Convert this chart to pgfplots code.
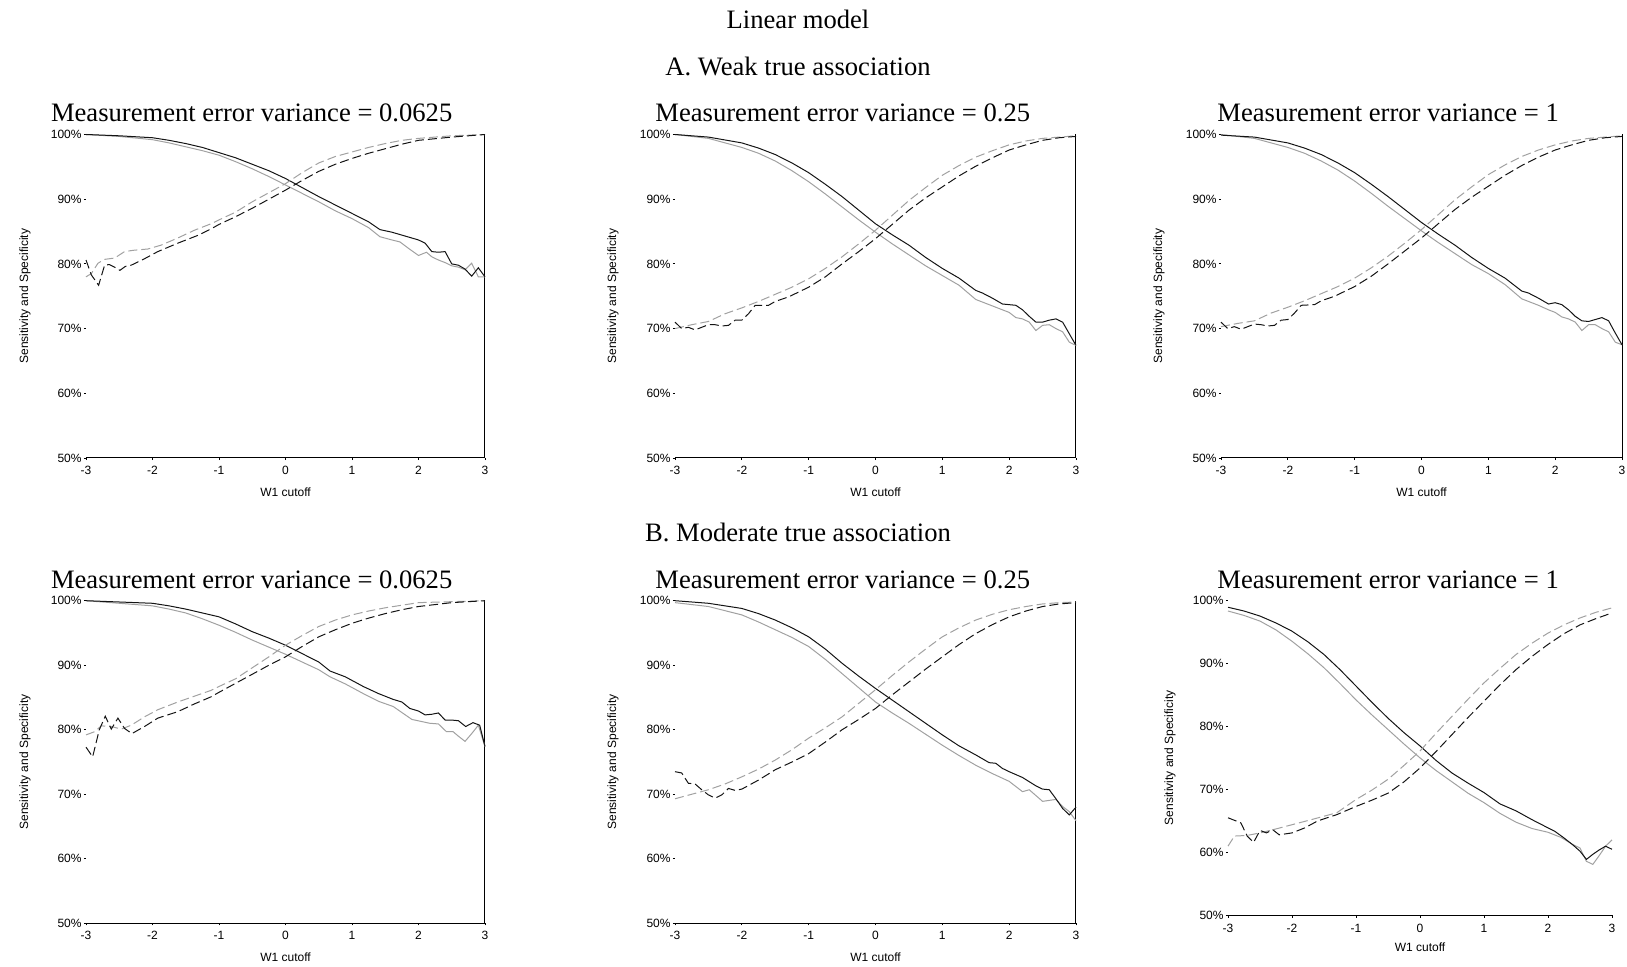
\documentclass[border=0pt]{standalone}
\usepackage{fontspec}
\setmainfont{Liberation Serif}
\setsansfont{Liberation Sans}
\usepackage{pgfplots}
\pgfplotsset{compat=1.18}
\definecolor{lgray}{gray}{0.63}
\definecolor{dblack}{gray}{0.08}
\newcommand{\tfont}{\fontsize{13.3}{15}\selectfont}
\newcommand{\sfont}{\sffamily\fontsize{6}{7}\selectfont}
\pgfplotsset{
  panel/.style={
    scale only axis, anchor=south west, clip=false,
    xmin=-3, xmax=3, ymin=50, ymax=100,
    axis x line*=bottom, axis y line*=left,
    axis line style={draw=none},
    tick align=outside, major tick length=1.1pt,
    tick style={black, line width=0.4pt},
    xtick={-3,-2,-1,0,1,2,3}, xticklabels={-3,-2,-1,0,1,2,3},
    ytick={50,60,70,80,90,100},
    yticklabels={50\%,60\%,70\%,80\%,90\%,100\%},
    tick label style={font=\sfont},
    xticklabel style={yshift=0.5pt},
    yticklabel style={xshift=2.4pt},
  },
  bs/.style={dblack, line width=0.5pt},
  gs/.style={lgray, line width=0.5pt},
  bd/.style={dblack, line width=0.5pt, dash pattern=on 4.5pt off 2pt},
  gd/.style={lgray, line width=0.5pt, dash pattern=on 4.5pt off 2pt},
}
\newcommand{\panellabels}[2]{%
  \node[rotate=90, font=\sfont] at ([xshift=-#1]rel axis cs:0,0.5) {Sensitivity and Specificity};
  \node[font=\sfont] at ([yshift=-#2]rel axis cs:0.5,0) {W1 cutoff};
}
\newcommand{\panelframe}[2]{%
  \draw[line width=0.5pt, black] (rel axis cs:0,0) -- (rel axis cs:1,0) -- (rel axis cs:1,1);
  \panellabels{#1}{#2}
}
\begin{document}
\begin{tikzpicture}
\useasboundingbox (0,0) rectangle (813.5pt,483.5pt);
\node[anchor=base, font=\tfont] at (399pt,469pt) {Linear model};
\node[anchor=base, font=\tfont] at (399pt,445.5pt) {A. Weak true association};
\node[anchor=base, font=\tfont] at (399pt,212.7pt) {B. Moderate true association};
\node[anchor=base west, font=\tfont, inner sep=0pt] at (25.3pt,422.6pt) {Measurement error variance = 0.0625};
\node[anchor=base west, font=\tfont, inner sep=0pt] at (327.5pt,422.6pt) {Measurement error variance = 0.25};
\node[anchor=base west, font=\tfont, inner sep=0pt] at (608.5pt,422.6pt) {Measurement error variance = 1};
\node[anchor=base west, font=\tfont, inner sep=0pt] at (25.3pt,189.3pt) {Measurement error variance = 0.0625};
\node[anchor=base west, font=\tfont, inner sep=0pt] at (327.5pt,189.3pt) {Measurement error variance = 0.25};
\node[anchor=base west, font=\tfont, inner sep=0pt] at (608.5pt,189.3pt) {Measurement error variance = 1};

% ---------- Panel 1: A, 0.0625 ----------
\begin{axis}[panel, at={(43pt,254.5pt)}, width=199.5pt, height=161.75pt]
\panelframe{30.5pt}{17pt}
\addplot[gs] coordinates {(-3,100)(-2.5,99.7)(-2,99.2)(-1.75,98.7)(-1.5,98.1)(-1.25,97.5)(-1,96.8)(-0.75,95.8)(-0.5,94.7)(-0.25,93.5)(0,92.2)(0.25,90.9)(0.5,89.6)(0.75,88.2)(1,87.0)(1.25,85.6)(1.42,84.2)(1.6,83.7)(1.72,83.4)(1.85,82.4)(2.0,81.3)(2.12,81.8)(2.2,81.1)(2.3,80.6)(2.4,80.2)(2.5,79.7)(2.6,79.5)(2.7,79.1)(2.8,80.1)(2.9,78.0)(3,78.0)};
\addplot[bs] coordinates {(-3,100)(-2.5,99.8)(-2,99.5)(-1.75,99.1)(-1.5,98.6)(-1.25,98.0)(-1,97.2)(-0.75,96.4)(-0.5,95.4)(-0.25,94.4)(0,93.2)(0.25,91.8)(0.5,90.4)(0.75,89.1)(1,87.8)(1.25,86.5)(1.42,85.3)(1.6,84.9)(1.8,84.3)(2.0,83.7)(2.1,83.2)(2.2,81.9)(2.3,81.8)(2.4,81.9)(2.5,80.0)(2.6,79.8)(2.7,79.2)(2.8,78.1)(2.9,79.4)(3.0,78.0)};
\addplot[gd] coordinates {(-3,78.0)(-2.92,78.5)(-2.82,80.1)(-2.72,80.7)(-2.57,80.9)(-2.42,81.9)(-2.29,82.1)(-2.07,82.3)(-1.87,82.9)(-1.62,84.0)(-1.37,85.2)(-1.12,86.2)(-1,86.8)(-0.75,88.0)(-0.5,89.6)(-0.25,91.0)(0,92.4)(0.25,94.1)(0.5,95.6)(0.75,96.6)(1,97.3)(1.25,98.0)(1.5,98.6)(1.75,99.1)(2,99.4)(2.5,99.8)(3,100)};
\addplot[bd] coordinates {(-3,80.6)(-2.92,78.3)(-2.81,76.7)(-2.72,79.8)(-2.65,79.9)(-2.57,79.5)(-2.49,79.0)(-2.41,79.6)(-2.32,79.8)(-2.12,80.8)(-1.92,81.9)(-1.62,83.2)(-1.32,84.4)(-1.12,85.4)(-1,86.1)(-0.75,87.3)(-0.5,88.6)(-0.25,90.0)(0,91.4)(0.25,92.9)(0.5,94.3)(0.75,95.4)(1,96.3)(1.25,97.1)(1.5,97.8)(1.75,98.5)(2,99.1)(2.5,99.6)(3,100)};
\end{axis}

% ---------- Panel 2: A, 0.25 ----------
\begin{axis}[panel, at={(337.5pt,254.5pt)}, width=200.5pt, height=161.75pt]
\panelframe{31pt}{17pt}
\addplot[gs] coordinates {(-3,100)(-2.5,99.4)(-2,98.0)(-1.75,97.1)(-1.5,95.9)(-1.25,94.4)(-1,92.7)(-0.75,90.8)(-0.5,88.8)(-0.25,86.8)(0,84.9)(0.25,83.1)(0.5,81.4)(0.75,79.7)(1,78.2)(1.25,76.7)(1.5,74.5)(1.75,73.5)(1.9,72.9)(2,72.5)(2.1,71.7)(2.2,71.5)(2.3,71.0)(2.4,69.7)(2.5,70.5)(2.6,70.6)(2.7,70.0)(2.8,69.5)(2.9,67.9)(3,67.4)};
\addplot[bs] coordinates {(-3,100)(-2.5,99.6)(-2,98.7)(-1.75,97.9)(-1.5,96.9)(-1.25,95.6)(-1,94.1)(-0.75,92.3)(-0.5,90.4)(-0.25,88.3)(0,86.2)(0.25,84.5)(0.5,82.9)(0.75,81.0)(1,79.3)(1.25,77.8)(1.5,75.9)(1.6,75.5)(1.75,74.7)(1.9,73.8)(2.0,73.7)(2.1,73.6)(2.2,72.9)(2.3,71.9)(2.4,71.0)(2.5,71.0)(2.6,71.3)(2.7,71.5)(2.8,71.0)(2.9,69.2)(3,67.4)};
\addplot[gd] coordinates {(-3,70.0)(-2.75,70.6)(-2.5,71.1)(-2.25,72.3)(-2,73.2)(-1.75,74.2)(-1.5,75.3)(-1.25,76.4)(-1,77.7)(-0.75,79.3)(-0.5,81.1)(-0.25,83.1)(0,85.2)(0.25,87.5)(0.5,89.8)(0.75,91.8)(1,93.7)(1.25,95.2)(1.5,96.5)(1.75,97.5)(2,98.4)(2.25,99.0)(2.5,99.4)(2.75,99.6)(3,99.8)};
\addplot[bd] coordinates {(-3,71.0)(-2.9,70.0)(-2.8,70.2)(-2.7,69.8)(-2.6,70.2)(-2.5,70.6)(-2.4,70.6)(-2.3,70.4)(-2.2,70.5)(-2.1,71.3)(-2,71.3)(-1.9,72.3)(-1.8,73.6)(-1.6,73.6)(-1.5,74.2)(-1.3,74.9)(-1,76.4)(-0.75,78.0)(-0.5,80.0)(-0.25,81.9)(0,83.9)(0.25,86.1)(0.5,88.3)(0.75,90.2)(1,91.9)(1.25,93.6)(1.5,95.1)(1.75,96.4)(2,97.6)(2.25,98.4)(2.5,99.1)(2.75,99.5)(3,99.7)};
\end{axis}

% ---------- Panel 3: A, 1 ----------
\begin{axis}[panel, at={(610.5pt,254.5pt)}, width=200.5pt, height=161.75pt]
\panelframe{31pt}{17pt}
\addplot[gs] coordinates {(-3,100)(-2.5,99.4)(-2,98.0)(-1.75,97.1)(-1.5,95.9)(-1.25,94.5)(-1,92.8)(-0.75,90.9)(-0.5,88.9)(-0.25,87.0)(0,85.1)(0.25,83.3)(0.5,81.6)(0.75,79.9)(1,78.5)(1.25,76.8)(1.5,74.6)(1.75,73.6)(1.9,72.9)(2,72.5)(2.1,71.8)(2.2,71.5)(2.3,71.0)(2.4,69.7)(2.5,70.6)(2.6,70.6)(2.7,70.0)(2.8,69.5)(2.9,67.9)(3,67.5)};
\addplot[bs] coordinates {(-3,99.9)(-2.5,99.6)(-2,98.7)(-1.75,97.9)(-1.5,96.9)(-1.25,95.6)(-1,94.1)(-0.75,92.3)(-0.5,90.4)(-0.25,88.4)(0,86.4)(0.25,84.6)(0.5,82.9)(0.75,81.0)(1,79.3)(1.25,77.8)(1.5,75.8)(1.6,75.5)(1.75,74.7)(1.9,73.8)(2.0,74.0)(2.1,73.7)(2.2,72.9)(2.3,71.9)(2.4,71.2)(2.5,71.1)(2.6,71.4)(2.7,71.7)(2.8,71.2)(2.9,69.3)(3,67.5)};
\addplot[gd] coordinates {(-3,70.3)(-2.75,70.8)(-2.5,71.2)(-2.25,72.4)(-2,73.3)(-1.75,74.3)(-1.5,75.4)(-1.25,76.5)(-1,77.8)(-0.75,79.4)(-0.5,81.2)(-0.25,83.2)(0,85.3)(0.25,87.6)(0.5,89.9)(0.75,91.9)(1,93.8)(1.25,95.3)(1.5,96.6)(1.75,97.6)(2,98.4)(2.25,99.0)(2.5,99.4)(2.75,99.6)(3,99.8)};
\addplot[bd] coordinates {(-3,71.0)(-2.9,70.0)(-2.8,70.3)(-2.7,69.9)(-2.6,70.3)(-2.5,70.7)(-2.4,70.6)(-2.3,70.4)(-2.2,70.5)(-2.1,71.3)(-2,71.4)(-1.9,72.4)(-1.8,73.6)(-1.6,73.7)(-1.5,74.3)(-1.3,75.0)(-1,76.5)(-0.75,78.1)(-0.5,80.0)(-0.25,82.0)(0,84.0)(0.25,86.2)(0.5,88.4)(0.75,90.3)(1,92.0)(1.25,93.7)(1.5,95.2)(1.75,96.5)(2,97.6)(2.25,98.4)(2.5,99.1)(2.75,99.5)(3,99.7)};
\end{axis}

% ---------- Panel 4: B, 0.0625 ----------
\begin{axis}[panel, at={(43pt,21.85pt)}, width=199.5pt, height=161.3pt]
\panelframe{30.5pt}{17pt}
\addplot[gs] coordinates {(-3,100)(-2.5,99.6)(-2,99.2)(-1.75,98.7)(-1.5,98.1)(-1.25,97.2)(-1,96.2)(-0.75,95.1)(-0.5,93.9)(-0.25,92.8)(0,91.7)(0.25,90.5)(0.5,89.3)(0.67,88.2)(0.9,87.1)(1.17,85.6)(1.4,84.4)(1.62,83.6)(1.9,81.6)(2.17,81.0)(2.3,80.9)(2.42,79.7)(2.52,79.7)(2.6,79.0)(2.7,78.2)(2.8,79.4)(2.9,80.7)(3,77.4)};
\addplot[bs] coordinates {(-3,100)(-2.5,99.8)(-2,99.6)(-1.75,99.2)(-1.5,98.7)(-1.25,98.1)(-1,97.5)(-0.75,96.4)(-0.5,95.2)(-0.25,94.2)(0,93.1)(0.25,91.8)(0.5,90.5)(0.67,89.1)(0.9,88.2)(1.17,86.7)(1.4,85.6)(1.62,84.7)(1.75,84.3)(1.87,83.3)(2.0,82.9)(2.1,82.3)(2.2,82.4)(2.3,82.6)(2.4,81.5)(2.5,81.5)(2.6,81.4)(2.71,80.5)(2.82,81.1)(2.92,80.7)(3,77.4)};
\addplot[gd] coordinates {(-3,79.2)(-2.87,79.7)(-2.77,80.6)(-2.62,80.5)(-2.47,80.1)(-2.32,80.7)(-2.12,82.0)(-1.92,83.1)(-1.62,84.3)(-1.37,85.2)(-1.12,86.1)(-1,86.7)(-0.75,87.9)(-0.5,89.6)(-0.25,91.3)(0,93.1)(0.25,94.6)(0.5,96.0)(0.75,97.0)(1,97.8)(1.25,98.4)(1.5,98.9)(1.75,99.3)(2,99.7)(3,100)};
\addplot[bd] coordinates {(-3,77.3)(-2.9,75.8)(-2.8,80.0)(-2.71,82.1)(-2.62,80.1)(-2.52,81.8)(-2.42,80.2)(-2.31,79.4)(-2.12,80.5)(-1.92,81.8)(-1.62,82.8)(-1.37,84.0)(-1.12,85.1)(-1,85.8)(-0.75,87.2)(-0.5,88.6)(-0.25,90.0)(0,91.3)(0.25,92.9)(0.5,94.4)(0.75,95.5)(1,96.5)(1.25,97.3)(1.5,98.0)(1.75,98.6)(2,99.1)(2.5,99.7)(3,100)};
\end{axis}

% ---------- Panel 5: B, 0.25 ----------
\begin{axis}[panel, at={(337.5pt,21.85pt)}, width=200.5pt, height=161.3pt]
\panelframe{31pt}{17pt}
\addplot[gs] coordinates {(-3,99.7)(-2.5,99.1)(-2,97.8)(-1.75,96.7)(-1.5,95.5)(-1.25,94.3)(-1,92.9)(-0.75,90.9)(-0.5,88.7)(-0.25,86.5)(0,84.3)(0.25,82.6)(0.5,81.0)(0.75,79.3)(1,77.6)(1.25,76.0)(1.5,74.5)(1.75,73.2)(2,72.0)(2.2,70.4)(2.3,70.7)(2.5,68.9)(2.7,69.2)(2.8,68.1)(2.9,67.3)(3,65.9)};
\addplot[bs] coordinates {(-3,100)(-2.5,99.6)(-2,98.8)(-1.75,98.0)(-1.5,97.0)(-1.25,95.8)(-1,94.4)(-0.75,92.5)(-0.5,90.3)(-0.25,88.3)(0,86.4)(0.25,84.6)(0.5,82.8)(0.75,81.0)(1,79.2)(1.25,77.5)(1.5,76.1)(1.7,74.9)(1.8,74.8)(1.9,74.0)(2,73.5)(2.2,72.6)(2.4,71.3)(2.5,70.8)(2.6,70.7)(2.7,69.3)(2.8,67.8)(2.9,66.8)(3,68.0)};
\addplot[gd] coordinates {(-3,69.3)(-2.75,70.0)(-2.5,70.7)(-2.25,71.6)(-2,72.7)(-1.75,73.9)(-1.5,75.3)(-1.25,76.9)(-1,78.7)(-0.75,80.3)(-0.5,82.0)(-0.25,84.1)(0,86.2)(0.25,88.4)(0.5,90.5)(0.75,92.5)(1,94.4)(1.25,95.8)(1.5,97.0)(1.75,97.9)(2,98.6)(2.25,99.1)(2.5,99.5)(2.75,99.7)(3,99.8)};
\addplot[bd] coordinates {(-3,73.5)(-2.9,73.3)(-2.8,71.7)(-2.7,71.6)(-2.6,70.7)(-2.5,69.9)(-2.4,69.4)(-2.3,69.9)(-2.2,70.9)(-2.1,70.6)(-2,70.8)(-1.75,72.2)(-1.5,73.8)(-1.25,75.0)(-1,76.3)(-0.75,78.1)(-0.5,80.0)(-0.25,81.6)(0,83.3)(0.25,85.4)(0.5,87.4)(0.75,89.4)(1,91.3)(1.25,93.2)(1.5,94.9)(1.75,96.3)(2,97.5)(2.25,98.4)(2.5,99.1)(2.75,99.5)(3,99.7)};
\end{axis}

% ---------- Panel 6: B, 1 ----------
\begin{axis}[panel, at={(614pt,25.75pt)}, width=192pt, height=157.6pt]
\draw[line width=0.5pt, black] (rel axis cs:0,0) -- (rel axis cs:1,0);
\panellabels{29pt}{16pt}
\addplot[gs] coordinates {(-3,98.3)(-2.75,97.6)(-2.5,96.7)(-2.25,95.3)(-2,93.5)(-1.75,91.5)(-1.5,89.3)(-1.25,86.8)(-1,84.2)(-0.75,81.8)(-0.5,79.5)(-0.25,77.2)(0,75.0)(0.25,73.0)(0.5,71.2)(0.75,69.4)(1,67.9)(1.25,66.2)(1.5,64.8)(1.75,63.8)(2,63.2)(2.2,62.4)(2.4,61.2)(2.5,60.7)(2.6,58.6)(2.7,58.1)(2.8,59.5)(2.9,61.0)(3,62.0)};
\addplot[bs] coordinates {(-3,98.9)(-2.75,98.3)(-2.5,97.5)(-2.25,96.4)(-2,95.1)(-1.75,93.4)(-1.5,91.4)(-1.25,89.0)(-1,86.4)(-0.75,83.8)(-0.5,81.3)(-0.25,79.0)(0,76.9)(0.25,74.6)(0.5,72.6)(0.75,71.0)(1,69.5)(1.25,67.7)(1.5,66.6)(1.75,65.2)(2,63.9)(2.1,63.4)(2.25,62.3)(2.4,61.1)(2.5,60.2)(2.6,58.9)(2.7,59.7)(2.8,60.4)(2.9,61.0)(3,60.5)};
\addplot[gd] coordinates {(-3,61.0)(-2.9,62.6)(-2.7,62.7)(-2.5,63.1)(-2.3,63.6)(-2,64.4)(-1.7,65.2)(-1.3,66.3)(-1,68.4)(-0.75,69.9)(-0.5,71.6)(-0.25,73.8)(0,76.1)(0.25,78.9)(0.5,81.6)(0.75,84.3)(1,86.9)(1.25,89.2)(1.5,91.4)(1.75,93.2)(2,94.8)(2.25,96.1)(2.5,97.2)(2.75,98.1)(3,98.8)};
\addplot[bd] coordinates {(-3,65.5)(-2.8,64.7)(-2.7,62.6)(-2.6,61.6)(-2.5,63.5)(-2.4,63.1)(-2.3,63.6)(-2.2,62.8)(-2,63.1)(-1.8,63.9)(-1.6,65.0)(-1.3,66.0)(-1,67.3)(-0.75,68.3)(-0.5,69.4)(-0.25,71.2)(0,73.4)(0.25,76.0)(0.5,78.7)(0.75,81.4)(1,84.0)(1.25,86.6)(1.5,89.0)(1.75,91.1)(2,93.0)(2.25,94.7)(2.5,96.1)(2.75,97.1)(3,98.0)};
\end{axis}
\end{tikzpicture}
\end{document}
